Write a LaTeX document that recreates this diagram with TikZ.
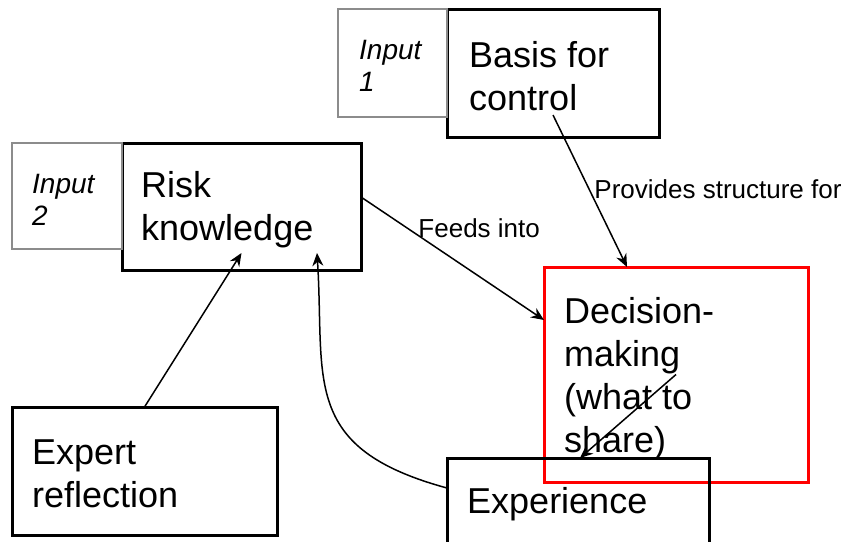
\documentclass[tikz,border=0pt]{standalone}
\usepackage{fontspec}
\setmainfont{Liberation Sans}
\usetikzlibrary{arrows.meta, positioning}
\definecolor{inputgray}{RGB}{140,140,140}
\definecolor{focusred}{RGB}{255,0,0}

\begin{document}
\begin{tikzpicture}[
    x=1pt, y=-1pt,
    box/.style={rectangle, draw=black, line width=3pt, anchor=north west, inner sep=0pt, outer sep=0pt},
    inbox/.style={rectangle, draw=inputgray, line width=1.5pt, inner sep=0pt, outer sep=0pt},
    focus/.style={box, draw=focusred},
    bigtxt/.style={anchor=base west, align=left, inner sep=0pt, font=\fontsize{36}{43}\selectfont},
    intxt/.style={anchor=base west, align=left, inner sep=0pt, font=\fontsize{28}{32}\selectfont\itshape},
    lbl/.style={anchor=base west, inner sep=0pt, font=\fontsize{26}{30}\selectfont},
    arr/.style={-{Stealth[length=13pt, width=11pt]}, line width=1.5pt, black},
]
\useasboundingbox (0,0) rectangle (853,541);

% boxes
\node[box, minimum width=212pt, minimum height=128pt] (basis) at (447,9) {};
\node[inbox, minimum width=109pt, minimum height=108pt, left=0pt of basis.north west, anchor=north east] (input1) {};

\node[box, minimum width=239pt, minimum height=127pt] (risk) at (122,143) {};
\node[inbox, minimum width=110pt, minimum height=106pt, left=0pt of risk.north west, anchor=north east] (input2) {};

\node[focus, minimum width=264pt, minimum height=215pt] (decision) at (544,267) {};
\node[box, minimum width=265pt, minimum height=128pt] (expert) at (12,407) {};
\node[box, minimum width=262pt, minimum height=100pt] (experience) at (447,458) {};

% texts (base = last line)
\node[bigtxt] (basistxt) at ([shift={(22,101)}]basis.north west) {Basis for\\control};
\node[intxt] (input1txt) at ([shift={(21,82)}]input1.north west) {Input\\1};
\node[bigtxt] (risktxt) at ([shift={(19,97)}]risk.north west) {Risk\\knowledge};
\node[intxt] (input2txt) at ([shift={(20,82)}]input2.north west) {Input\\2};
\node[bigtxt] (decisiontxt) at ([shift={(20,185)}]decision.north west) {Decision-\\making\\(what to\\share)};
\node[bigtxt] (experttxt) at ([shift={(20,100)}]expert.north west) {Expert\\reflection};
\node[bigtxt] (experiencetxt) at ([shift={(20,55)}]experience.north west) {Experience};

% connectors
\draw[arr] ([yshift=22pt]basis.south) -- node[lbl, pos=0.55] {Provides structure for} ([xshift=83pt]decision.north west);
\draw[arr] ([yshift=9.5pt]risk.east) -- node[lbl, pos=0.31, yshift=-2pt] {Feeds into} ([yshift=54.5pt]decision.west);
\draw[arr] (expert.north) -- ([yshift=17pt]risk.south);
\draw[arr] ([yshift=20pt]experience.west) .. controls (300,448) and (325,380) .. ([xshift=75.5pt, yshift=17pt]risk.south);
\draw[arr] (decision.center) -- ([xshift=133pt]experience.north west);

\end{tikzpicture}
\end{document}
